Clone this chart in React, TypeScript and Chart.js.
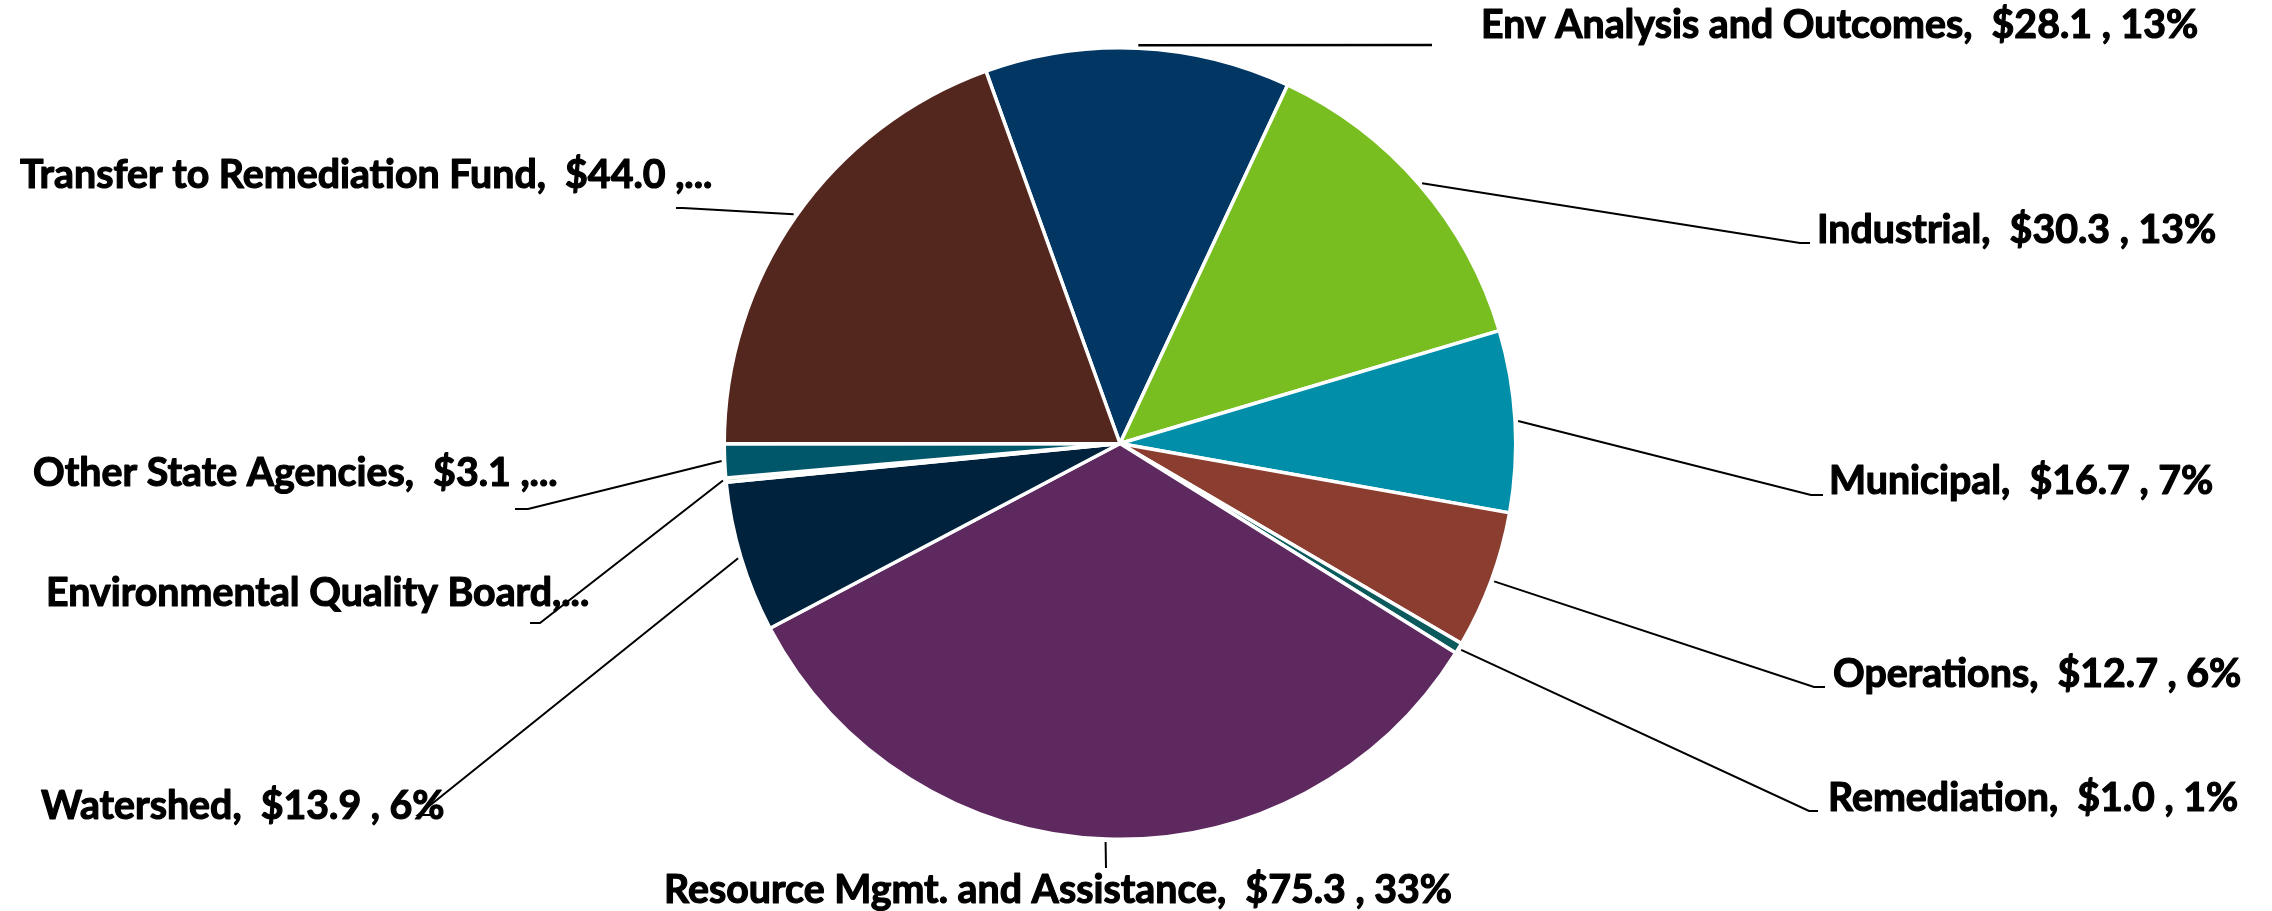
import React, { useEffect, useRef } from "react";
import { Chart, registerables } from "chart.js";

Chart.register(...registerables);

const CATEGORIES = [
  "Env Analysis and Outcomes",
  "Industrial",
  "Municipal",
  "Operations",
  "Remediation",
  "Resource Mgmt. and Assistance",
  "Watershed",
  "Environmental Quality Board",
  "Other State Agencies",
  "Transfer to Remediation Fund",
];

const VALUES = [28.1, 30.3, 16.7, 12.7, 1.0, 75.3, 13.9, 0.4, 3.1, 44.0];

const LABEL_TEXT = [
  "Env Analysis and Outcomes,  $28.1 , 13%",
  "Industrial,  $30.3 , 13%",
  "Municipal,  $16.7 , 7%",
  "Operations,  $12.7 , 6%",
  "Remediation,  $1.0 , 1%",
  "Resource Mgmt. and Assistance,  $75.3 , 33%",
  "Watershed,  $13.9 , 6%",
  "Environmental Quality Board,...",
  "Other State Agencies,  $3.1 ,...",
  "Transfer to Remediation Fund,  $44.0 ,...",
];

const COLORS = [
  "#023764",
  "#78be21",
  "#008ea9",
  "#8b3e2f",
  "#0b5a5c",
  "#5d295f",
  "#00223d",
  "#c6e0b4",
  "#00576a",
  "#53271d",
];

// Label layout: text anchor (tx, ty baseline, align), elbow point and tick end
type LabelLayout = {
  tx: number;
  ty: number;
  align: CanvasTextAlign;
  ex: number;
  ey: number;
  kx: number;
  ky: number;
};

const LABEL_LAYOUT: LabelLayout[] = [
  { tx: 1481, ty: 38, align: "left", ex: 1432, ey: 45, kx: 1432, ky: 45 },
  { tx: 1817, ty: 243, align: "left", ex: 1800, ey: 243, kx: 1810, ky: 243 },
  { tx: 1829, ty: 494, align: "left", ex: 1811, ey: 495, kx: 1823, ky: 495 },
  { tx: 1833, ty: 687, align: "left", ex: 1814, ey: 687, kx: 1825, ky: 687 },
  { tx: 1828, ty: 811, align: "left", ex: 1809, ey: 811, kx: 1818, ky: 811 },
  { tx: 1058, ty: 903, align: "center", ex: 1106, ey: 868, kx: 1106, ky: 868 },
  { tx: 41, ty: 819, align: "left", ex: 418, ey: 815, kx: 430, ky: 815 },
  { tx: 46, ty: 606, align: "left", ex: 540, ey: 623, kx: 530, ky: 623 },
  { tx: 33, ty: 486, align: "left", ex: 528, ey: 509, kx: 515, ky: 509 },
  { tx: 20, ty: 188, align: "left", ex: 683, ey: 208, kx: 676, ky: 208 },
];

const FONT = "bold 40px Lato, 'Open Sans', sans-serif";
const REF_INDEX = 5;
const REF_WIDTH = 788;

const labelPlugin = {
  id: "leaderLabels",
  afterDatasetsDraw(chart: any) {
    const ctx: CanvasRenderingContext2D = chart.ctx;
    const meta = chart.getDatasetMeta(0);
    ctx.save();
    ctx.font = FONT;
    const sx = REF_WIDTH / ctx.measureText(LABEL_TEXT[REF_INDEX]).width;
    meta.data.forEach((arc: any, i: number) => {
      const L = LABEL_LAYOUT[i];
      if (!L) return;
      const { x, y, startAngle, endAngle, outerRadius } = arc.getProps(
        ["x", "y", "startAngle", "endAngle", "outerRadius"],
        true
      );
      const mid = (startAngle + endAngle) / 2;
      const r = outerRadius + 3;
      const px = x + Math.cos(mid) * r;
      const py = y + Math.sin(mid) * r;
      ctx.beginPath();
      ctx.strokeStyle = "#000000";
      ctx.lineWidth = i === 0 ? 2.5 : 2;
      ctx.moveTo(px, py);
      ctx.lineTo(L.ex, L.ey);
      ctx.lineTo(L.kx, L.ky);
      ctx.stroke();

      ctx.save();
      ctx.translate(L.tx, L.ty);
      ctx.scale(sx, 1);
      ctx.fillStyle = "#000000";
      ctx.strokeStyle = "#000000";
      ctx.lineWidth = 1.2;
      ctx.lineJoin = "round";
      ctx.textAlign = L.align;
      ctx.textBaseline = "alphabetic";
      ctx.fillText(LABEL_TEXT[i], 0, 0);
      ctx.strokeText(LABEL_TEXT[i], 0, 0);
      ctx.restore();
    });
    ctx.restore();
  },
};

export default function App() {
  const canvasRef = useRef<HTMLCanvasElement | null>(null);

  useEffect(() => {
    if (!canvasRef.current) return;
    const chart = new Chart(canvasRef.current, {
      type: "pie",
      data: {
        labels: CATEGORIES,
        datasets: [
          {
            data: VALUES,
            backgroundColor: COLORS,
            borderColor: "#ffffff",
            borderWidth: 3.5,
            hoverOffset: 0,
          },
        ],
      },
      options: {
        animation: false,
        responsive: true,
        maintainAspectRatio: false,
        devicePixelRatio: 1,
        rotation: -19.8,
        layout: { padding: { top: 46, bottom: 70, left: 0, right: 32 } },
        plugins: {
          legend: { display: false },
          tooltip: { enabled: false },
        },
      },
      plugins: [labelPlugin],
    });
    return () => chart.destroy();
  }, []);

  return (
    <div
      style={{
        position: "fixed",
        left: 0,
        top: 0,
        width: "2272px",
        height: "911px",
        background: "#ffffff",
      }}
    >
      <canvas ref={canvasRef} />
    </div>
  );
}
